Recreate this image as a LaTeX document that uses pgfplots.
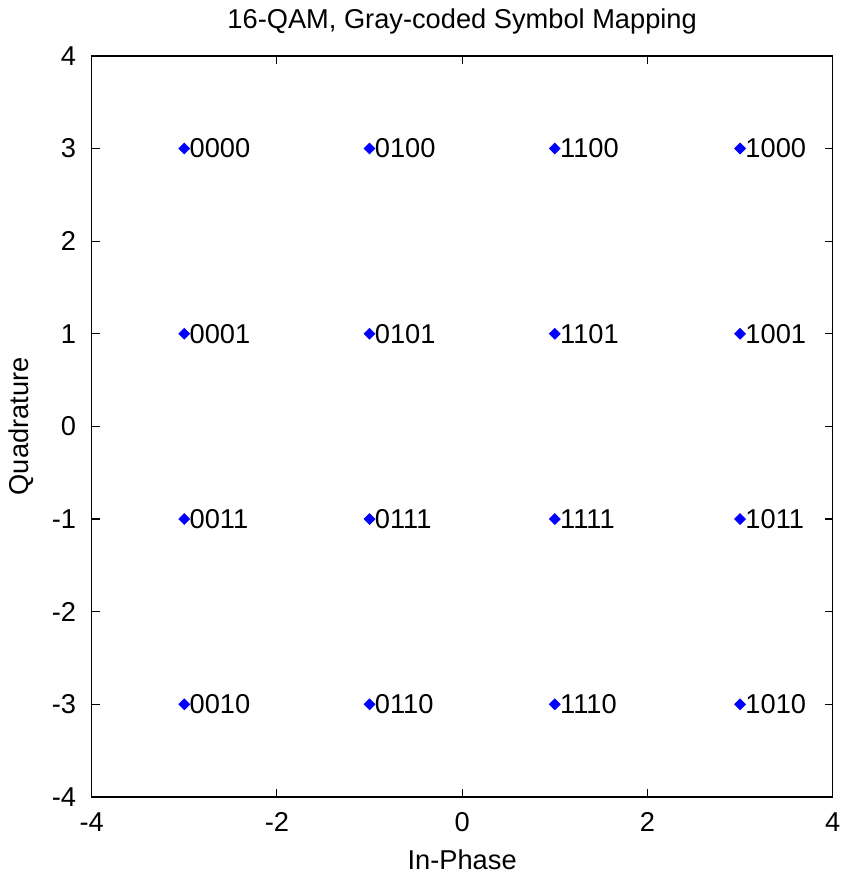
\documentclass[border=0pt]{standalone}
\usepackage{fontspec}
\setmainfont{Liberation Sans}
\usepackage{pgfplots}
\pgfplotsset{compat=1.18}

\begin{document}
\fontsize{13.6}{16}\selectfont
\begin{tikzpicture}
\begin{axis}[
  scale only axis,
  width=370pt, height=370pt,
  xmin=-4, xmax=4, ymin=-4, ymax=4,
  xtick={-4,-2,...,4},
  ytick={-4,-3,...,4},
  tick align=inside,
  major tick length=4pt,
  axis line style={line width=0.8pt},
  every tick/.style={black, line width=0.6pt},
  /pgf/number format/assume math mode=true,
  ticklabel style={font=\fontsize{13.6}{16}\selectfont},
  xticklabel style={yshift=-3pt},
  yticklabel style={xshift=-3pt},
  title={16-QAM, Gray-coded Symbol Mapping},
  title style={font=\fontsize{13.6}{16}\selectfont, at={(axis description cs:0.5,1.046)}, anchor=center, yshift=-6pt},
  xlabel={In-Phase},
  ylabel={Quadrature},
  label style={font=\fontsize{13.6}{16}\selectfont},
  xlabel style={at={(axis description cs:0.5,-0.085)}, anchor=center},
  ylabel style={at={(axis description cs:-0.0946,0.5)}, anchor=center},
  point meta=explicit symbolic,
  nodes near coords,
  every node near coord/.style={anchor=west, inner sep=0pt, xshift=2.5pt, font=\fontsize{13.6}{16}\selectfont, black},
]
\addplot[only marks, blue, mark=square*, mark size=1.9pt, mark options={rotate=45}] coordinates {
  (-3,3) [0000] (-1,3) [0100] (1,3) [1100] (3,3) [1000]
  (-3,1) [0001] (-1,1) [0101] (1,1) [1101] (3,1) [1001]
  (-3,-1) [0011] (-1,-1) [0111] (1,-1) [1111] (3,-1) [1011]
  (-3,-3) [0010] (-1,-3) [0110] (1,-3) [1110] (3,-3) [1010]
};
\end{axis}
\end{tikzpicture}
\end{document}
